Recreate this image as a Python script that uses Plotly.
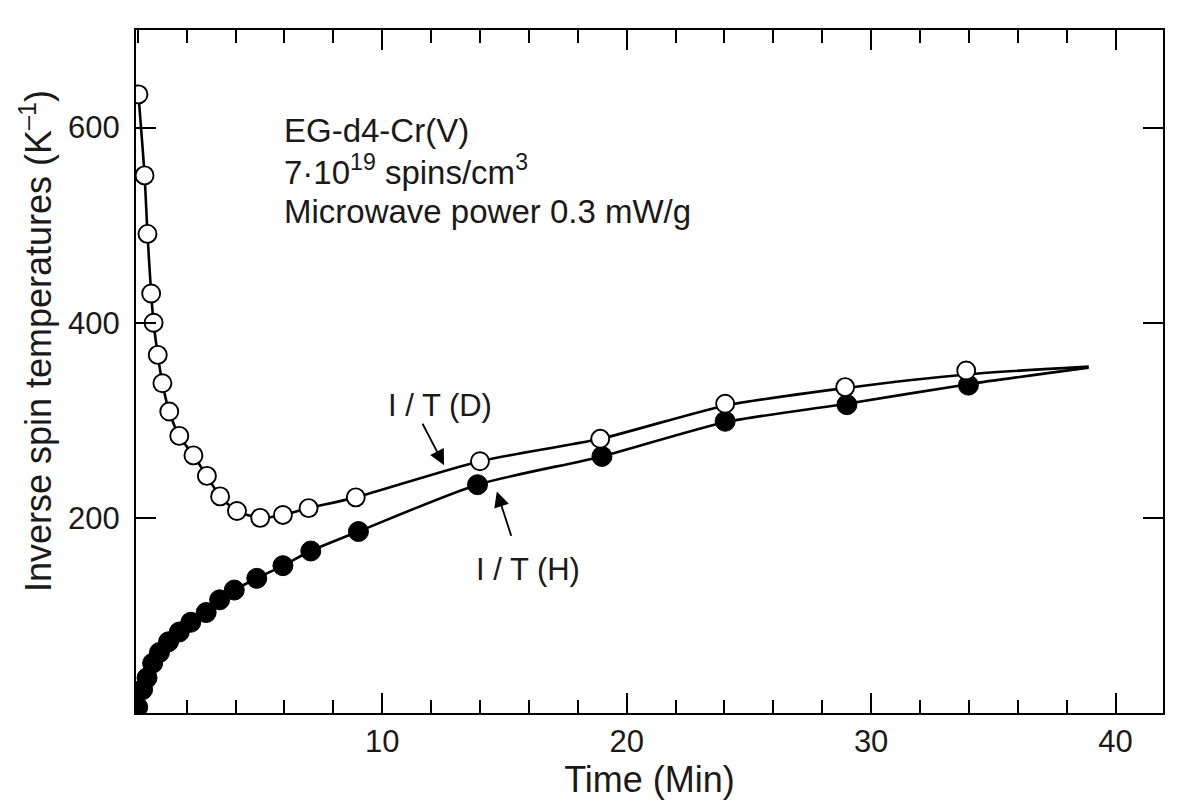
import plotly.graph_objects as go

# Open circles: 1/T (D)
d_time = [0.03, 0.28, 0.40, 0.55, 0.65, 0.82, 1.01, 1.29, 1.70, 2.28, 2.83, 3.37, 4.06, 5.01, 5.94, 6.99, 8.92, 14.0, 18.92, 24.03, 28.94, 33.89]
d_vals = [634, 551, 491, 430, 400, 367, 338, 309, 284, 264, 243, 222, 207, 200, 203, 210, 221, 258, 281, 317, 334, 351]

# Filled circles: 1/T (H)
h_time = [0.0, 0.20, 0.38, 0.61, 0.89, 1.26, 1.70, 2.17, 2.80, 3.35, 3.95, 4.87, 5.94, 7.08, 9.03, 13.9, 18.99, 24.03, 29.01, 33.98]
h_vals = [6, 24, 36, 51, 62, 73, 83, 93, 103, 116, 126, 138, 151, 166, 186, 234, 263, 299, 316, 336]

d_curve_tail_time = [14.0, 18.92, 24.03, 28.94, 33.89, 38.9]
d_curve_tail_vals = [258, 281, 315, 333, 347, 355]
h_curve_tail_time = [13.9, 18.99, 24.03, 29.01, 33.98, 38.9]
h_curve_tail_vals = [234, 263, 298, 317, 337, 354]

x_ticks = [10, 20, 30, 40]
y_ticks = [200, 400, 600]

FONT = "Liberation Sans, Arial, Helvetica, sans-serif"
TXT = "#1a1a1a"

n_d_early = sum(1 for t in d_time if t < 10)
n_h_early = sum(1 for t in h_time if t < 10)

fig = go.Figure()

fig.add_trace(go.Scatter(
    x=d_time[:n_d_early] + d_curve_tail_time, y=d_vals[:n_d_early] + d_curve_tail_vals,
    mode="lines", line=dict(color="black", width=2.6, shape="spline", smoothing=0.7),
    hoverinfo="skip", showlegend=False))
fig.add_trace(go.Scatter(
    x=h_time[:n_h_early] + h_curve_tail_time, y=h_vals[:n_h_early] + h_curve_tail_vals,
    mode="lines", line=dict(color="black", width=2.6, shape="spline", smoothing=0.7),
    hoverinfo="skip", showlegend=False))

fig.add_trace(go.Scatter(
    x=h_time, y=h_vals, mode="markers", name="I/T (H)",
    marker=dict(symbol="circle", size=20, color="black", line=dict(color="black", width=1)),
    showlegend=False))
fig.add_trace(go.Scatter(
    x=d_time, y=d_vals, mode="markers", name="I/T (D)",
    marker=dict(symbol="circle", size=18, color="white", line=dict(color="black", width=1.9)),
    showlegend=False))

annos = [
    dict(x=5.9, y=597, text="EG-d4-Cr(V)", xanchor="left", yanchor="middle",
         showarrow=False, font=dict(size=33, color=TXT, family=FONT)),
    dict(x=5.9, y=557, text="7·10<sup>19</sup> spins/cm<sup>3</sup>", xanchor="left", yanchor="middle",
         showarrow=False, font=dict(size=33, color=TXT, family=FONT)),
    dict(x=5.9, y=514, text="Microwave power 0.3 mW/g", xanchor="left", yanchor="middle",
         showarrow=False, font=dict(size=33, color=TXT, family=FONT)),
    dict(x=12.37, y=315, text="I / T (D)", xanchor="center", yanchor="middle",
         showarrow=False, font=dict(size=31, color=TXT, family=FONT)),
    dict(x=15.97, y=147, text="I / T (H)", xanchor="center", yanchor="middle",
         showarrow=False, font=dict(size=31, color=TXT, family=FONT)),
    dict(x=12.53, y=254, ax=11.62, ay=298, xref="x", yref="y", axref="x", ayref="y",
         text="", showarrow=True, arrowhead=2, arrowsize=1.7, arrowwidth=1.8, arrowcolor="black"),
    dict(x=14.69, y=227, ax=15.30, ay=180, xref="x", yref="y", axref="x", ayref="y",
         text="", showarrow=True, arrowhead=2, arrowsize=1.7, arrowwidth=1.8, arrowcolor="black"),
    # y-axis title
    dict(x=-0.098, y=0.545, xref="paper", yref="paper", xanchor="center", yanchor="middle",
         textangle=-90, showarrow=False,
         text="Inverse spin temperatures (K<sup>–1</sup>)",
         font=dict(size=36, color=TXT, family=FONT)),
]
fig.update_layout(annotations=annos)

fig.update_xaxes(
    range=[-0.07, 41.94], tickvals=x_ticks, ticks="inside", ticklen=20, tickwidth=2,
    tickcolor="black", showline=True, linecolor="black", linewidth=2, mirror="ticks",
    showgrid=False, zeroline=False, automargin=False,
    minor=dict(dtick=2, tick0=0, ticks="inside", ticklen=13, tickwidth=2, tickcolor="black", showgrid=False),
    tickfont=dict(size=31, color=TXT, family=FONT),
    title=dict(text="Time (Min)", font=dict(size=36, color=TXT, family=FONT), standoff=2),
)
fig.update_yaxes(
    range=[0, 700], tickvals=y_ticks, ticks="inside", ticklen=20, tickwidth=2,
    tickcolor="black", showline=True, linecolor="black", linewidth=2, mirror="ticks",
    showgrid=False, zeroline=False, automargin=False, ticklabelstandoff=8,
    tickfont=dict(size=31, color=TXT, family=FONT),
)

fig.update_layout(
    width=1190, height=809,
    margin=dict(l=128, r=35, t=22, b=104),
    plot_bgcolor="white", paper_bgcolor="white",
    font=dict(family=FONT, color=TXT),
)

fig.write_html("out.html")
